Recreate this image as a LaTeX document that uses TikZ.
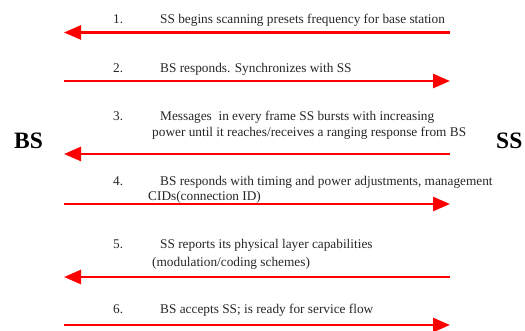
\documentclass[tikz,border=0pt]{standalone}
\usepackage{fontspec}
\setmainfont{Liberation Serif}
\usetikzlibrary{arrows.meta}
\begin{document}
\begin{tikzpicture}[x=1pt,y=-1pt,
  msg/.style={draw=red, line width=2.6pt,
    -{Triangle[length=17pt,width=14pt]}},
  lbl/.style={anchor=base west, inner sep=0pt, font=\fontsize{13.3}{15}\selectfont, text=black!85},
  side/.style={anchor=base west, inner sep=0pt, font=\fontsize{23.5}{26}\selectfont\bfseries}]
\useasboundingbox (0,0) rectangle (525,331);
% end points of the messages on the BS side (left) and SS side (right)
\foreach \i/\y in {1/32.5,2/81,3/154,4/204,5/277,6/325}{
  \coordinate (bs\i) at (64,\y);
  \coordinate (ss\i) at (450,\y);
}
% the two stations
\node[side] (bs) at (14,149) {BS};
\node[side] (ss) at (496,149) {SS};
% messages
\draw[msg] (ss1) -- (bs1);
\draw[msg] (bs2) -- (ss2);
\draw[msg] (ss3) -- (bs3);
\draw[msg] (bs4) -- (ss4);
\draw[msg] (ss5) -- (bs5);
\draw[msg] (bs6) -- (ss6);
% step numbers
\foreach \i/\y in {1/24,2/73,3/121,4/186,5/249,6/313}{
  \node[lbl] (n\i) at (113,\y) {\i.};
}
% step texts
\node[lbl] (t1) at (160,24) {SS begins scanning presets frequency for base station};
\node[lbl] (t2) at (160,73) {BS responds. Synchronizes with SS};
\node[lbl] (t3a) at (160,121) {Messages\ \ in every frame SS bursts with increasing};
\node[lbl] (t3b) at (152,137) {power until it reaches/receives a ranging response from BS};
\node[lbl] (t4a) at (160,186) {BS responds with timing and power adjustments, management};
\node[lbl] (t4b) at (148,201) {CIDs(connection ID)};
\node[lbl] (t5a) at (160,249) {SS reports its physical layer capabilities};
\node[lbl] (t5b) at (152,266) {(modulation/coding schemes)};
\node[lbl] (t6) at (160,313) {BS accepts SS; is ready for service flow};
\end{tikzpicture}
\end{document}
